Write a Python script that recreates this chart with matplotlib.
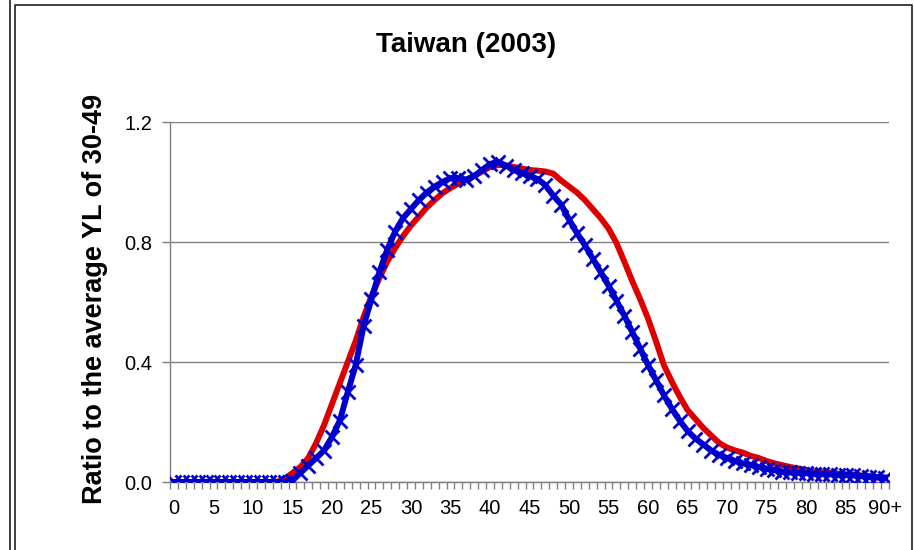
import matplotlib
matplotlib.use("Agg")
import matplotlib.pyplot as plt
from matplotlib.lines import Line2D
import numpy as np

plt.rcParams['font.family'] = ['Liberation Sans', 'DejaVu Sans']

# ratio of YL to the average of ages 30-49, one value per age 0..90+
ages = list(range(91))
tick_labels = [str(a) for a in range(0, 90, 5)] + ["90+"]

red_vals = [0.0] * 14 + [
    0.01, 0.03, 0.05, 0.08, 0.13, 0.19, 0.26, 0.33, 0.40, 0.47,      # 14-23
    0.55, 0.62, 0.68, 0.735, 0.78, 0.82, 0.855, 0.885, 0.915, 0.94,  # 24-33
    0.963, 0.98, 0.995, 1.007, 1.02, 1.035, 1.05, 1.057, 1.055, 1.05,  # 34-43
    1.045, 1.04, 1.038, 1.035, 1.028, 1.005, 0.985, 0.965, 0.94, 0.91,  # 44-53
    0.88, 0.845, 0.797, 0.735, 0.67, 0.61, 0.545, 0.47, 0.39, 0.335,  # 54-63
    0.285, 0.24, 0.21, 0.18, 0.155, 0.13, 0.115, 0.105, 0.098, 0.087,  # 64-73
    0.08, 0.07, 0.062, 0.056, 0.05, 0.045, 0.04, 0.035, 0.033, 0.03,  # 74-83
    0.028, 0.026, 0.024, 0.022, 0.02, 0.015, 0.012,                   # 84-90
]

blue_vals = [0.0] * 15 + [
    0.005, 0.03, 0.055, 0.08, 0.105, 0.15, 0.205, 0.3, 0.39, 0.52,   # 15-24
    0.61, 0.7, 0.775, 0.835, 0.88, 0.91, 0.94, 0.965, 0.985, 1.0,    # 25-34
    1.013, 1.013, 1.008, 1.02, 1.04, 1.06, 1.067, 1.055, 1.04, 1.03,  # 35-44
    1.02, 1.01, 0.99, 0.955, 0.925, 0.875, 0.83, 0.79, 0.745, 0.7,   # 45-54
    0.655, 0.605, 0.555, 0.5, 0.445, 0.39, 0.34, 0.29, 0.245, 0.205,  # 55-64
    0.17, 0.145, 0.125, 0.105, 0.09, 0.08, 0.07, 0.062, 0.057, 0.05,  # 65-74
    0.045, 0.04, 0.035, 0.032, 0.03, 0.03, 0.028, 0.027, 0.026, 0.025,  # 75-84
    0.024, 0.022, 0.02, 0.018, 0.016, 0.015,                          # 85-90
]

yticks = [0.0, 0.4, 0.8, 1.2]

fig = plt.figure(figsize=(9.14, 5.5), dpi=100)
ax = fig.add_axes([170 / 914, 1 - 482 / 550, 719 / 914, 360 / 550])

ax.plot(ages, red_vals, color='#DD0000', lw=4.3, solid_joinstyle='round',
        solid_capstyle='round', zorder=3)
ax.plot(ages, blue_vals, color='#0000CC', lw=4.3, marker='x', ms=10, mew=2,
        solid_joinstyle='round', zorder=4)

ax.set_xlim(-0.5, 90.5)
ax.set_ylim(0, 1.2)

# category axis: labels at every 5th age, tick marks between categories
ax.set_xticks(list(range(0, 91, 5)))
ax.set_xticklabels(tick_labels)
ax.set_xticks(np.arange(-0.5, 91, 1), minor=True)
ax.tick_params(axis='x', which='major', length=0, pad=12, labelsize=14.5)
ax.tick_params(axis='x', which='minor', length=5, width=1, color='#808080',
               direction='out')

ax.set_yticks(yticks)
ax.set_yticklabels(["%.1f" % v for v in yticks])
ax.tick_params(axis='y', length=6, width=1, color='#808080', pad=7, labelsize=14.5)

ax.grid(axis='y', color='#808080', lw=1)
ax.set_axisbelow(True)
for s in ['top', 'right']:
    ax.spines[s].set_visible(False)
for s in ['left', 'bottom']:
    ax.spines[s].set_color('#808080')
    ax.spines[s].set_linewidth(1)
ax.spines['bottom'].set_zorder(2)

fig.text(466 / 914, 1 - 45 / 550, "Taiwan (2003)", ha='center', va='center',
         fontsize=20, fontweight='bold')
fig.text(95 / 914, 1 - 299 / 550, "Ratio to the average YL of 30-49",
         rotation=90, ha='center', va='center', fontsize=19.5, fontweight='bold')

# chart borders
fig.add_artist(Line2D([10 / 914, 10 / 914], [0, 1], transform=fig.transFigure,
                      color='#202020', lw=1.2))
fig.add_artist(Line2D([15 / 914, 15 / 914, 912 / 914, 912 / 914],
                      [0, 1 - 5 / 550, 1 - 5 / 550, 0], transform=fig.transFigure,
                      color='#202020', lw=1.2))

fig.savefig("out.png", dpi=100)
